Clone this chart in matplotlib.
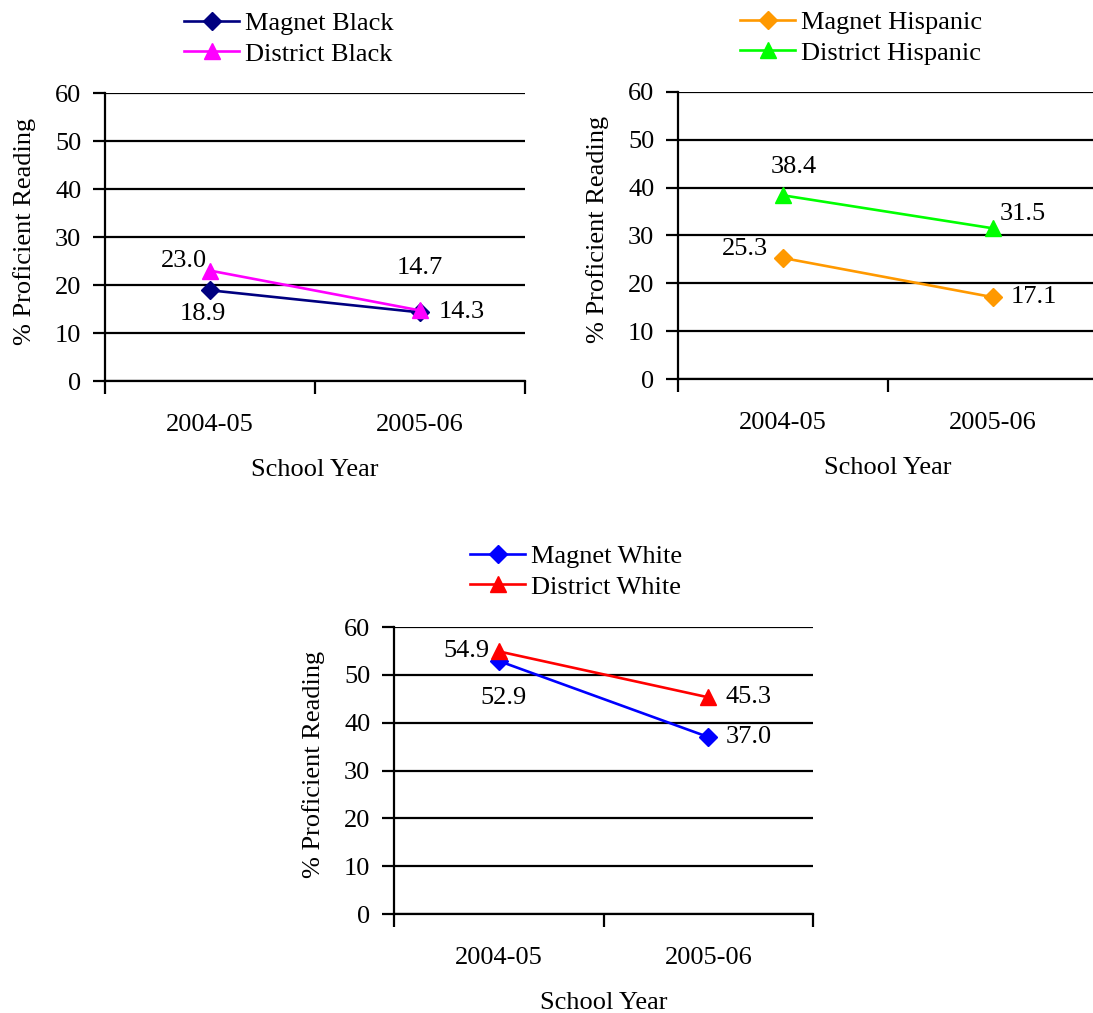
import matplotlib
matplotlib.use('Agg')
import matplotlib.pyplot as plt

plt.rcParams['font.family'] = ['Liberation Serif', 'DejaVu Serif']
plt.rcParams['font.size'] = 19

years = ['2004-05', '2005-06']

magnet_black = [18.9, 14.3]
district_black = [23.0, 14.7]
magnet_hispanic = [25.3, 17.1]
district_hispanic = [38.4, 31.5]
magnet_white = [52.9, 37.0]
district_white = [54.9, 45.3]

yticks = [0, 10, 20, 30, 40, 50, 60]

W, H = 1093, 1013


def px_axes(fig, left, top, right, bottom):
  # axes placed by pixel edges (origin at top-left of image)
  return fig.add_axes([left / W, (H - bottom) / H, (right - left) / W, (bottom - top) / H])


def label_points(ax, xs, vals, offsets):
  # offsets: (ha, dx, dy) in pixels for each point
  for x, v, (ha, dx, dy) in zip(xs, vals, offsets):
    ax.annotate(f"{v:.1f}", (x, v), xytext=(dx, dy), textcoords='offset pixels',
                ha=ha, va='center', fontsize=19, color='black', annotation_clip=False)


def draw_panel(ax, magnet, district, names, colors, magnet_offs, district_offs, legend_xy):
  xs = [0.5, 1.5]
  l1, = ax.plot(xs, magnet, color=colors[0], lw=1.9, marker='D', ms=9,
                markeredgecolor=colors[0], zorder=4, clip_on=False)
  l2, = ax.plot(xs, district, color=colors[1], lw=1.9, marker='^', ms=11,
                markeredgecolor=colors[1], zorder=5, clip_on=False)

  ax.set_xlim(0, 2)
  ax.set_ylim(0, 60)
  ax.set_yticks(yticks)
  ax.set_xticks([0, 1, 2])
  ax.set_xticklabels([])
  ax.set_xticks(xs, minor=True)
  ax.set_xticklabels(years, minor=True)
  ax.tick_params(axis='x', which='major', direction='out', length=9, width=1.6)
  ax.tick_params(axis='x', which='minor', length=0, pad=24)
  ax.tick_params(axis='y', direction='out', length=9, width=1.6, pad=8)

  ax.grid(axis='y', color='black', lw=1.6)
  ax.set_axisbelow(True)
  for side in ['top', 'right']:
    ax.spines[side].set_visible(False)
  for side in ['left', 'bottom']:
    ax.spines[side].set_linewidth(1.6)

  ax.set_xlabel('School Year', labelpad=16)
  ax.set_ylabel('% Proficient Reading')
  ax.yaxis.set_label_coords(-69 / 420, 0.52)

  label_points(ax, xs, magnet, magnet_offs)
  label_points(ax, xs, district, district_offs)

  ax.legend([l1, l2], names, loc='upper left', bbox_to_anchor=(legend_xy[0] / W, 1 - legend_xy[1] / H),
            bbox_transform=ax.figure.transFigure, frameon=False, numpoints=1,
            handlelength=2.1, handletextpad=0.2, borderpad=0, borderaxespad=0,
            labelspacing=0.25, fontsize=19)


fig = plt.figure(figsize=(W / 100, H / 100), dpi=100)

ax1 = px_axes(fig, 105, 93, 525, 381)
draw_panel(ax1, magnet_black, district_black, ['Magnet Black', 'District Black'],
           ['#000080', '#FF00FF'],
           [('center', -7, -24), ('left', 19, 0)],
           [('right', -3, 10), ('center', 0, 42)],
           (184, 12))

ax2 = px_axes(fig, 678, 92, 1098, 379)
draw_panel(ax2, magnet_hispanic, district_hispanic, ['Magnet Hispanic', 'District Hispanic'],
           ['#FF9900', '#00FF00'],
           [('right', -15, 9), ('left', 18, 0)],
           [('center', 11, 28), ('left', 7, 14)],
           (740, 11))

ax3 = px_axes(fig, 394, 627, 813, 914)
draw_panel(ax3, magnet_white, district_white, ['Magnet White', 'District White'],
           ['#0000FF', '#FF0000'],
           [('center', 5, -37), ('left', 17, 0)],
           [('right', -9, 0), ('left', 17, 0)],
           (470, 545))

fig.savefig('out.png', dpi=100)
